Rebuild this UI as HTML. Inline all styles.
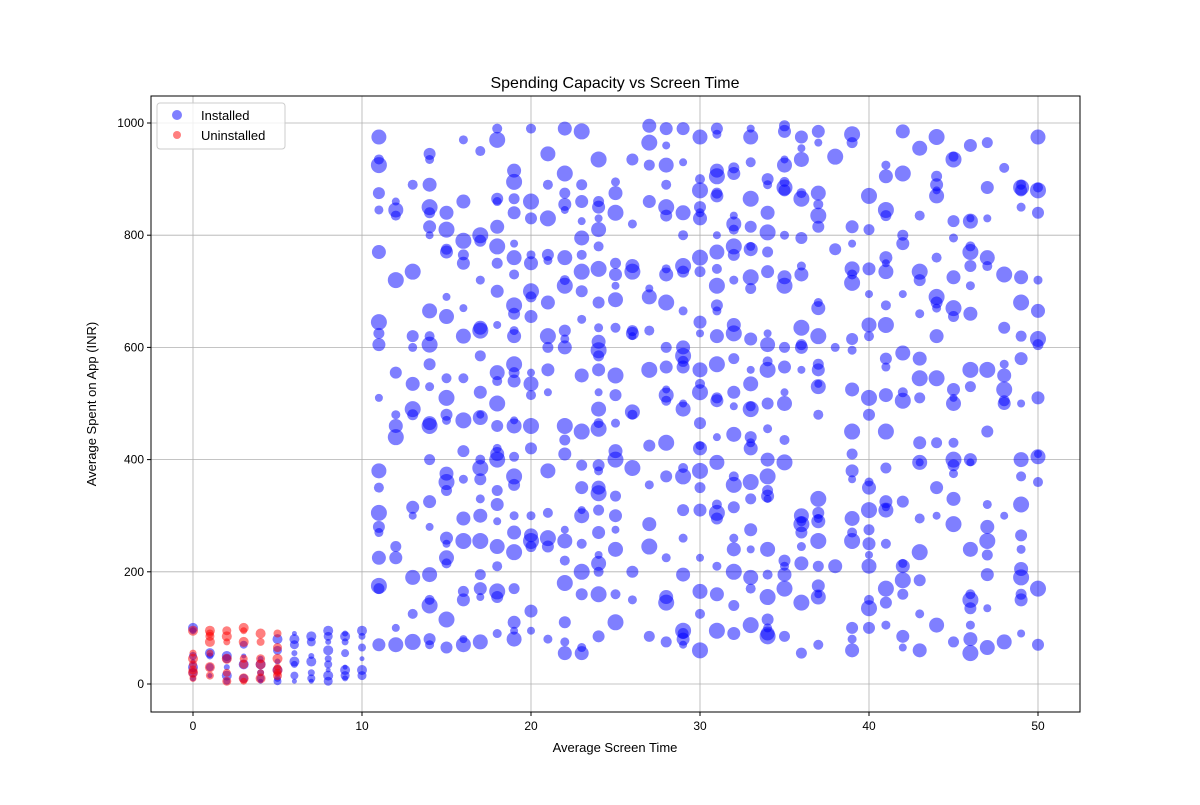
<!DOCTYPE html>
<html><head><meta charset="utf-8"><style>
body{margin:0;background:#fff;font-family:"Liberation Sans","DejaVu Sans",sans-serif;}
svg text{font-family:"Liberation Sans","DejaVu Sans",sans-serif;}
</style></head><body>
<svg id="chart" width="1200" height="800" xmlns="http://www.w3.org/2000/svg">
<rect width="1200" height="800" fill="#fff"/>
<text x="615" y="88" text-anchor="middle" font-size="16">Spending Capacity vs Screen Time</text>
<text x="615" y="752" text-anchor="middle" font-size="13">Average Screen Time</text>
<text x="96" y="404" text-anchor="middle" font-size="13" transform="rotate(-90 96 404)">Average Spent on App (INR)</text>
<g id="grid"></g><g id="pts"></g><g id="axes"></g>
<g>
<rect x="157" y="103" width="128" height="46" fill="#fff" fill-opacity="0.8" stroke="#ccc" rx="3"/>
<circle cx="177" cy="115" r="5" fill="#0000ff" fill-opacity="0.5"/>
<text x="201" y="120" font-size="13">Installed</text>
<circle cx="177" cy="135" r="4" fill="#ff0000" fill-opacity="0.5"/>
<text x="201" y="140" font-size="13">Uninstalled</text>
</g>
</svg>
<script>
const xTicks=[0,10,20,30,40,50];
const yTicks=[0,200,400,600,800,1000];
const installedHigh=[
[11,[975,935,925,875,845,770,645,625,605,510,380,350,305,280,270,225,175,170,70]],
[12,[860,845,835,720,555,480,460,440,245,225,100,70]],
[13,[890,735,620,600,535,490,480,315,300,190,125,75]],
[14,[945,935,890,850,840,815,800,665,620,605,570,530,465,460,400,325,280,195,150,140,80,70]],
[15,[840,810,775,770,690,655,545,510,480,470,375,360,345,260,250,225,215,115,65]],
[16,[970,860,790,765,750,670,620,545,470,415,365,295,255,165,150,80,70]],
[17,[950,800,790,720,635,630,585,520,480,475,400,385,365,330,300,255,195,170,155,75]],
[18,[990,970,865,860,815,780,750,700,640,555,540,500,460,420,410,400,345,320,290,245,210,165,155,90]],
[19,[915,895,865,840,785,760,730,675,660,630,620,570,555,540,470,460,405,370,355,300,270,235,170,110,95,80]],
[20,[990,860,830,765,750,700,690,655,555,535,515,460,420,300,265,255,245,130,95]],
[21,[945,890,830,765,755,680,620,600,560,520,380,305,260,245,80]],
[22,[990,910,875,855,845,760,720,710,630,615,600,460,435,410,275,255,220,180,110,75,55]],
[23,[985,890,860,825,795,765,735,700,650,550,450,390,350,310,300,250,200,160,65,55]],
[24,[935,860,850,830,810,780,740,680,635,610,595,585,560,520,490,465,455,390,380,350,340,310,270,230,215,200,160,85]],
[25,[895,875,840,750,730,710,685,635,550,515,465,415,400,335,300,275,240,160,110]],
[26,[935,820,745,735,630,625,620,485,480,385,200,150]],
[27,[995,965,925,860,705,690,630,560,425,355,285,245,85]],
[28,[990,960,925,890,850,835,740,730,680,600,565,525,515,505,430,370,225,155,145,75]],
[29,[990,930,840,800,745,735,665,600,585,575,565,500,490,385,370,310,260,195,95,90,80,70]],
[30,[975,900,880,850,840,830,760,735,645,625,560,535,520,465,425,420,380,350,310,225,165,125,60]],
[31,[990,980,915,905,875,870,800,770,740,710,675,665,620,570,510,505,440,395,320,305,295,210,160,95]],
[32,[920,910,835,820,810,780,765,720,640,625,580,520,495,445,370,355,315,260,240,200,140,90]],
[33,[990,975,930,865,815,780,775,725,705,615,560,535,495,490,440,430,420,360,330,275,240,190,170,105]],
[34,[900,890,840,805,770,735,625,605,575,560,500,455,400,370,345,335,330,240,195,155,115,100,90,85]],
[35,[995,985,935,925,895,885,880,800,725,710,600,565,520,500,435,395,220,210,195,170,85]],
[36,[975,955,935,875,865,795,745,730,635,605,600,560,300,290,285,270,245,215,145,55]],
[37,[985,965,875,855,835,815,680,670,620,570,560,535,530,480,330,305,295,290,255,210,175,160,155,70]],
[38,[940,775,600,210]],
[39,[980,965,815,785,740,730,715,615,595,525,450,410,380,365,295,270,255,100,80,60]],
[40,[870,810,740,695,640,620,510,480,360,350,310,275,250,230,210,150,135,100]],
[41,[925,905,845,835,760,750,735,675,640,580,565,515,450,385,325,315,310,250,170,145,105]],
[42,[985,910,800,785,695,590,520,505,325,215,210,185,160,85,65]],
[43,[955,835,735,720,660,580,545,510,430,395,395,295,235,185,125,60]],
[44,[975,905,890,880,870,760,690,680,670,620,545,430,350,300,105]],
[45,[940,935,825,795,725,670,655,525,510,500,430,400,390,375,330,285,75]],
[46,[960,830,825,780,770,745,710,660,560,530,400,395,240,160,150,135,105,80,55]],
[47,[965,885,830,760,745,560,450,320,280,255,230,195,135,65]],
[48,[920,730,635,570,550,525,505,500,300,75]],
[49,[890,885,880,850,725,680,620,580,500,400,370,320,265,240,205,190,160,150,90]],
[50,[975,885,880,840,720,665,615,605,510,410,405,360,170,70]]
];
const installedLow=[
[0,[100,95,50,40,30,20,10]],[1,[55,50,30,15]],[2,[50,45,30,15,5]],[3,[70,50,35,10]],
[4,[45,35,20,10,5]],[5,[80,60,40,25,10,5]],[6,[90,80,70,55,40,35,15,5]],[7,[85,75,50,40,20,10,5]],
[8,[95,85,75,60,45,35,25,15,5]],[9,[90,85,75,55,30,25,15,10]],[10,[95,85,65,45,25,15]]
];
const uninstalled=[
[0,[95,55,45,35,25,20,10]],[1,[95,90,85,75,55,30,15]],[2,[95,85,75,45,20,5]],
[3,[100,95,75,45,35,10,5]],[4,[90,75,45,35,20,10]],[5,[90,65,45,30,25,20,15]]
];
const L=151,R=1080,T=96,B=712;
const xs=v=>193+v*(1038-193)/50;
const ys=v=>684-v*(684-123)/1000;
const NS="http://www.w3.org/2000/svg";
function mk(tag,attrs,parent){const e=document.createElementNS(NS,tag);for(const k in attrs)e.setAttribute(k,attrs[k]);parent.appendChild(e);return e;}
const grid=document.getElementById('grid'),axes=document.getElementById('axes'),pts=document.getElementById('pts');
xTicks.forEach(t=>{const x=xs(t);
 const g=mk('line',{x1:x,x2:x,y1:T,y2:B,stroke:'#b0b0b0','stroke-width':0.8},grid);
 
 
 mk('line',{x1:x,x2:x,y1:B,y2:B+4,stroke:'#000'},axes);
 const tx=mk('text',{x:x,y:B+18,'text-anchor':'middle','font-size':12},axes);tx.textContent=t;
 
 
});
yTicks.forEach(t=>{const y=ys(t);
 const g=mk('line',{x1:L,x2:R,y1:y,y2:y,stroke:'#b0b0b0','stroke-width':0.8},grid);
 
 
 mk('line',{x1:L-4,x2:L,y1:y,y2:y,stroke:'#000'},axes);
 const tx=mk('text',{x:L-7,y:y+4,'text-anchor':'end','font-size':12},axes);tx.textContent=t;
 
 
});
const fr=mk('rect',{x:L,y:T,width:R-L,height:B-T,fill:'none',stroke:'#000','stroke-width':1},axes);


const bigR=[7.5,5,8,6,4.5,7,8,5.5,6.5,4];
const lowR=[4.5,3,5,3.5,4,2.5,5];
let k=0;
function draw(cols,color,radii,name){cols.forEach(([x,yl])=>yl.forEach(y=>{
 const c=mk('circle',{cx:xs(x),cy:ys(y),r:radii[k++%radii.length],fill:color,'fill-opacity':0.5},pts);
 
 
}));}
draw(installedHigh,'#0000ff',bigR,'installed-point');
draw(installedLow,'#0000ff',lowR,'installed-point');
draw(uninstalled,'#ff0000',[5,4,4.5,5,3.5],'uninstalled-point');
</script>
</body></html>
